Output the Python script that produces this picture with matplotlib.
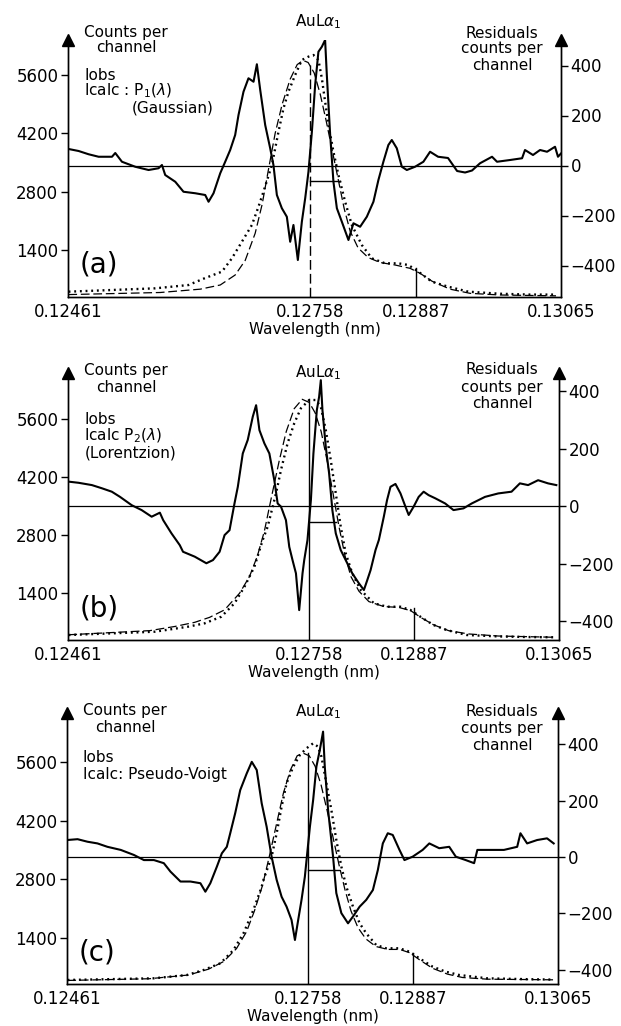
import matplotlib
matplotlib.use("Agg")
import matplotlib.pyplot as plt

# axis ticks
wl_ticks = [0.12461, 0.12758, 0.12887, 0.13065]
wl_labels = ["0.12461", "0.12758", "0.12887", "0.13065"]
count_ticks = [1400, 2800, 4200, 5600]
resid_ticks = [-400, -200, 0, 200, 400]
resid_labels = ["\u2212400", "\u2212200", "0", "200", "400"]

# ---------------- panel (a): Gaussian ----------------
a_obs_wl = [0.124617, 0.125679, 0.126087, 0.126291, 0.126496, 0.126618, 0.126741, 0.126863,
            0.126944, 0.127005, 0.127108, 0.127189, 0.127250, 0.127311, 0.127393, 0.127475,
            0.127556, 0.127617, 0.127678, 0.127720, 0.127760, 0.127801, 0.127862, 0.127923,
            0.128005, 0.128087, 0.128210, 0.128332, 0.128495, 0.128658, 0.128780, 0.128903,
            0.129067, 0.129266, 0.129515, 0.129903, 0.130270, 0.130589]
a_obs = [400, 480, 560, 728, 880, 1200, 1600, 2000,
         2440, 2800, 3440, 4240, 4800, 5200, 5600, 5960,
         6040, 6080, 5960, 5520, 4960, 4400, 3760, 3200,
         2560, 2000, 1520, 1200, 1080, 1080, 1040, 880,
         640, 520, 400, 350, 330, 330]

a_calc_wl = [0.124614, 0.125740, 0.126230, 0.126475, 0.126658, 0.126781, 0.126903, 0.126989,
             0.127063, 0.127148, 0.127234, 0.127332, 0.127418, 0.127491, 0.127552, 0.127626,
             0.127699, 0.127773, 0.127846, 0.127920, 0.127993, 0.128067, 0.128164, 0.128287,
             0.128434, 0.128617, 0.128801, 0.128924, 0.129071, 0.129291, 0.129536, 0.129903,
             0.130589]
a_calc = [330, 380, 460, 560, 800, 1150, 1800, 2500,
          3300, 4200, 4900, 5500, 5850, 5950, 5900, 5650,
          5150, 4500, 3800, 3100, 2400, 1850, 1450, 1220,
          1100, 1040, 960, 840, 650, 460, 360, 320,
          300]

a_res_wl = [0.124617, 0.124740, 0.124862, 0.124985, 0.125149, 0.125189, 0.125271, 0.125434,
            0.125597, 0.125719, 0.125761, 0.125801, 0.125924, 0.126025, 0.126169, 0.126291,
            0.126332, 0.126393, 0.126475, 0.126536, 0.126597, 0.126658, 0.126699, 0.126760,
            0.126821, 0.126883, 0.126924, 0.126965, 0.127026, 0.127087, 0.127127, 0.127169,
            0.127230, 0.127291, 0.127332, 0.127372, 0.127426, 0.127475, 0.127516, 0.127556,
            0.127598, 0.127638, 0.127678, 0.127720, 0.127760, 0.127781, 0.127822, 0.127862,
            0.127904, 0.127965, 0.128046, 0.128107, 0.128189, 0.128271, 0.128352, 0.128413,
            0.128474, 0.128535, 0.128577, 0.128638, 0.128700, 0.128761, 0.128862, 0.128964,
            0.129046, 0.129144, 0.129266, 0.129377, 0.129475, 0.129560, 0.129658, 0.129805,
            0.129866, 0.130026, 0.130173, 0.130209, 0.130307, 0.130393, 0.130479, 0.130577,
            0.130613, 0.130650]
a_res = [66, 58, 45, 35, 35, 50, 15, -5,
         -18, -11, 2, -38, -65, -105, -111, -118,
         -145, -111, -31, 15, 62, 122, 202, 295,
         349, 335, 405, 302, 162, 69, 2, -118,
         -171, -205, -305, -238, -378, -225, -131, -25,
         135, 322, 455, 475, 502, 362, 122, -65,
         -171, -225, -298, -231, -245, -205, -145, -58,
         15, 82, 102, 69, -5, -18, -5, 15,
         55, 35, 30, -22, -28, -20, 9, 35,
         15, 22, 29, 62, 42, 62, 55, 75,
         35, 48]
a_marks = [5890, 968]            # heights of marker lines at 0.12758 and 0.12887
a_bar = [0.12758, 0.12794, -60]  # start, end, residual level

# ---------------- panel (b): Lorentzian ----------------
b_obs_wl = [0.124617, 0.125679, 0.126087, 0.126291, 0.126496, 0.126658, 0.126781, 0.126903,
            0.127005, 0.127066, 0.127169, 0.127230, 0.127311, 0.127393, 0.127475, 0.127577,
            0.127659, 0.127720, 0.127781, 0.127842, 0.127904, 0.127965, 0.128026, 0.128107,
            0.128210, 0.128373, 0.128535, 0.128700, 0.128822, 0.128944, 0.129107, 0.129266,
            0.129515, 0.129903, 0.130270, 0.130589]
b_obs = [394, 474, 595, 676, 836, 1158, 1558, 2040,
         2684, 3004, 3809, 4371, 5014, 5496, 5858, 6058,
         6058, 5896, 5335, 4612, 3809, 3004, 2363, 1881,
         1479, 1158, 1076, 1076, 997, 836, 635, 515,
         394, 360, 345, 340]

b_calc_wl = [0.124614, 0.125618, 0.125924, 0.126169, 0.126352, 0.126536, 0.126720, 0.126842,
             0.126940, 0.127026, 0.127111, 0.127209, 0.127295, 0.127393, 0.127491, 0.127577,
             0.127650, 0.127724, 0.127797, 0.127871, 0.127944, 0.128018, 0.128091, 0.128189,
             0.128311, 0.128495, 0.128679, 0.128826, 0.128948, 0.129107, 0.129291, 0.129536,
             0.129903, 0.130589]
b_calc = [400, 500, 600, 700, 820, 1000, 1400, 1800,
          2300, 2900, 3700, 4600, 5300, 5850, 6075, 6000,
          5750, 5300, 4600, 3800, 3000, 2300, 1800, 1450,
          1200, 1080, 1060, 980, 820, 640, 500, 420,
          370, 340]

b_res_wl = [0.124617, 0.124740, 0.124904, 0.125026, 0.125149, 0.125250, 0.125394, 0.125516,
            0.125639, 0.125740, 0.125781, 0.125883, 0.125985, 0.126025, 0.126169, 0.126312,
            0.126393, 0.126475, 0.126536, 0.126597, 0.126658, 0.126699, 0.126760, 0.126821,
            0.126883, 0.126924, 0.126965, 0.127026, 0.127087, 0.127148, 0.127189, 0.127230,
            0.127291, 0.127332, 0.127372, 0.127414, 0.127454, 0.127495, 0.127516, 0.127556,
            0.127598, 0.127629, 0.127671, 0.127699, 0.127720, 0.127740, 0.127781, 0.127822,
            0.127862, 0.127904, 0.127965, 0.128026, 0.128107, 0.128189, 0.128250, 0.128291,
            0.128332, 0.128393, 0.128434, 0.128495, 0.128535, 0.128577, 0.128638, 0.128700,
            0.128761, 0.128801, 0.128862, 0.128924, 0.128985, 0.129046, 0.129128, 0.129250,
            0.129352, 0.129475, 0.129576, 0.129740, 0.129903, 0.130066, 0.130169, 0.130270,
            0.130393, 0.130515, 0.130617]
b_res = [85, 81, 73, 62, 50, 32, 3, -14,
         -37, -23, -49, -95, -136, -159, -176, -199,
         -188, -159, -101, -84, 9, 67, 183, 230,
         311, 351, 264, 218, 183, 90, 9, -2,
         -49, -142, -188, -234, -362, -234, -188, -118,
         21, 183, 334, 380, 438, 334, 206, 114,
         -14, -95, -153, -188, -234, -269, -292, -258,
         -223, -153, -118, -37, 21, 67, 77, 44,
         -2, -31, -2, 32, 50, 38, 27, 9,
         -14, -8, 9, 32, 44, 50, 79, 73,
         90, 79, 73]
b_marks = [6075, 1045]
b_bar = [0.12758, 0.12791, -55]

# ---------------- panel (c): pseudo-Voigt ----------------
c_obs_wl = [0.124617, 0.125679, 0.126087, 0.126291, 0.126496, 0.126658, 0.126781, 0.126903,
            0.127005, 0.127026, 0.127127, 0.127189, 0.127250, 0.127311, 0.127393, 0.127475,
            0.127556, 0.127638, 0.127699, 0.127740, 0.127801, 0.127862, 0.127923, 0.127985,
            0.128046, 0.128128, 0.128210, 0.128291, 0.128413, 0.128535, 0.128700, 0.128822,
            0.128944, 0.129107, 0.129266, 0.129434, 0.129781, 0.130270, 0.130589]
c_obs = [401, 441, 520, 639, 798, 1116, 1514, 2070,
         2626, 2786, 3341, 3900, 4534, 5092, 5488, 5767,
         5927, 6046, 5965, 5726, 5092, 4456, 3741, 3104,
         2626, 2149, 1753, 1514, 1236, 1157, 1157, 1076,
         918, 719, 600, 520, 440, 420, 410]

c_calc_wl = [0.124614, 0.125618, 0.126107, 0.126352, 0.126536, 0.126695, 0.126818, 0.126916,
             0.127014, 0.127099, 0.127185, 0.127271, 0.127356, 0.127442, 0.127516, 0.127589,
             0.127662, 0.127736, 0.127809, 0.127883, 0.127956, 0.128030, 0.128103, 0.128189,
             0.128287, 0.128409, 0.128556, 0.128703, 0.128826, 0.128948, 0.129107, 0.129291,
             0.129475, 0.129781, 0.130589]
c_calc = [390, 430, 520, 660, 840, 1150, 1550, 2050,
          2650, 3350, 4100, 4850, 5400, 5750, 5810, 5750,
          5500, 5050, 4450, 3800, 3150, 2550, 2050, 1650,
          1380, 1200, 1130, 1130, 1050, 880, 680, 540,
          460, 420, 405]

c_res_wl = [0.124610, 0.124740, 0.124862, 0.124985, 0.125107, 0.125271, 0.125434, 0.125556,
            0.125679, 0.125801, 0.125883, 0.126006, 0.126128, 0.126251, 0.126312, 0.126373,
            0.126454, 0.126515, 0.126576, 0.126618, 0.126679, 0.126741, 0.126821, 0.126883,
            0.126944, 0.127005, 0.127066, 0.127127, 0.127189, 0.127250, 0.127311, 0.127372,
            0.127414, 0.127454, 0.127495, 0.127536, 0.127565, 0.127598, 0.127638, 0.127678,
            0.127720, 0.127760, 0.127781, 0.127822, 0.127883, 0.127923, 0.127985, 0.128067,
            0.128128, 0.128210, 0.128291, 0.128373, 0.128434, 0.128495, 0.128556, 0.128617,
            0.128700, 0.128761, 0.128862, 0.128985, 0.129067, 0.129189, 0.129312, 0.129393,
            0.129515, 0.129618, 0.129658, 0.129821, 0.129985, 0.130148, 0.130188, 0.130270,
            0.130393, 0.130515, 0.130597]
c_res = [60, 63, 54, 48, 36, 25, 7, -11,
         -11, -22, -52, -87, -87, -93, -123, -93,
         -34, 13, 36, 84, 155, 237, 296, 337,
         308, 190, 107, 1, -81, -141, -176, -223,
         -294, -223, -152, -70, 13, 107, 202, 320,
         379, 444, 320, 166, 1, -128, -199, -235,
         -211, -176, -152, -117, -46, 48, 84, 78,
         25, -11, 1, 25, 48, 31, 36, 1,
         -11, -22, 25, 25, 25, 36, 84, 48,
         60, 66, 48]
c_marks = [5807, 1045]
c_bar = [0.12758, 0.12796, -46]

W, H = 621, 1026
fig = plt.figure(figsize=(W / 100, H / 100), dpi=100)
plt.rcParams['font.family'] = 'DejaVu Sans'


def fx(px):
    return px / W


def fy(py):
    return 1 - py / H


panels = [
    dict(rect=(68, 561, 297, 40), clim=(272, 6440), rlim=(-526, 502),
         obs=(a_obs_wl, a_obs), calc=(a_calc_wl, a_calc), res=(a_res_wl, a_res),
         marks=a_marks, bar=a_bar, mark_ls=(0, (7, 3)), tag="(a)",
         counts_y=(32, 48), info=[(75, "Iobs"), (91, r"Icalc : P$_1$($\lambda$)")],
         extra=(132, 108, "(Gaussian)"), tag_y=265, au_y=22, resid_y=(33, 49, 66)),
    dict(rect=(68, 559, 640, 373), clim=(274, 6709), rlim=(-466, 463),
         obs=(b_obs_wl, b_obs), calc=(b_calc_wl, b_calc), res=(b_res_wl, b_res),
         marks=b_marks, bar=b_bar, mark_ls='-', tag="(b)",
         counts_y=(370, 387), info=[(420, "Iobs"), (436, r"Icalc P$_2$($\lambda$)")],
         extra=(85, 453, "(Lorentzion)"), tag_y=608, au_y=373, resid_y=(370, 387, 404)),
    dict(rect=(67, 558, 984, 713), clim=(305, 6769), rlim=(-450, 510),
         obs=(c_obs_wl, c_obs), calc=(c_calc_wl, c_calc), res=(c_res_wl, c_res),
         marks=c_marks, bar=c_bar, mark_ls='-', tag="(c)",
         counts_y=(710, 727), info=[(757, "Iobs"), (774, "Icalc: Pseudo-Voigt")],
         extra=None, tag_y=952, au_y=712, resid_y=(712, 728, 745)),
]

for p in panels:
    l, r, b, t = p['rect']
    ax = fig.add_axes([fx(l), fy(b), fx(r - l), (b - t) / H])
    ax2 = ax.twinx()
    ax.set_xlim(wl_ticks[0], wl_ticks[-1])
    ax.set_ylim(*p['clim'])
    ax2.set_ylim(*p['rlim'])

    # profiles
    ax.plot(*p['obs'], color='black', lw=1.7, ls=(0, (0.8, 1.6)), zorder=3)
    ax.plot(*p['calc'], color='black', lw=0.9, ls=(0, (7, 3)), zorder=3)
    # peak marker lines
    ax.plot([wl_ticks[1], wl_ticks[1]], [p['clim'][0], p['marks'][0]],
            color='black', lw=1.0, ls=p['mark_ls'], zorder=3)
    ax.plot([wl_ticks[2], wl_ticks[2]], [p['clim'][0], p['marks'][1]],
            color='black', lw=1.0, zorder=3)
    # residuals
    ax2.axhline(0, color='black', lw=0.9)
    ax2.plot(*p['res'], color='black', lw=1.5, zorder=4)
    ax2.plot(p['bar'][:2], [p['bar'][2], p['bar'][2]], color='black', lw=1.0)

    for a in (ax, ax2):
        a.spines['top'].set_visible(False)
        for s in a.spines.values():
            s.set_linewidth(1.0)
    ax.set_xticks(wl_ticks)
    ax.set_xticklabels(wl_labels, fontsize=12)
    ax.tick_params(axis='x', length=0, pad=4)
    ax.set_xlabel("Wavelength (nm)", fontsize=11, labelpad=1)
    ax.set_yticks(count_ticks)
    ax.set_yticklabels([str(v) for v in count_ticks], fontsize=12)
    ax.tick_params(axis='y', direction='out', length=5, width=1, pad=2)
    ax2.set_yticks(resid_ticks)
    ax2.set_yticklabels(resid_labels, fontsize=12)
    ax2.tick_params(axis='y', direction='out', length=5, width=1, pad=2)

    # arrow heads on both vertical axes
    ax.plot([0, 1], [1, 1], transform=ax.transAxes, ls='none', marker='^',
            ms=8, color='black', clip_on=False, zorder=6)

    # annotations
    for py, txt in zip(p['counts_y'], ["Counts per", "channel"]):
        fig.text(fx(l + 58), fy(py), txt, ha='center', va='center', fontsize=11)
    for py, txt in p['info']:
        fig.text(fx(l + 16), fy(py), txt, ha='left', va='center', fontsize=11)
    if p['extra'] is not None:
        ex, ey, et = p['extra']
        fig.text(fx(ex), fy(ey), et, ha='left', va='center', fontsize=11)
    fig.text(fx(l + 12), fy(p['tag_y']), p['tag'], ha='left', va='center', fontsize=20)
    fig.text(fx(318), fy(p['au_y']), r"AuL$\alpha_1$", ha='center', va='center', fontsize=11)
    for py, txt in zip(p['resid_y'], ["Residuals", "counts per", "channel"]):
        fig.text(fx(502), fy(py), txt, ha='center', va='center', fontsize=11)

fig.savefig("out.png", dpi=100)
